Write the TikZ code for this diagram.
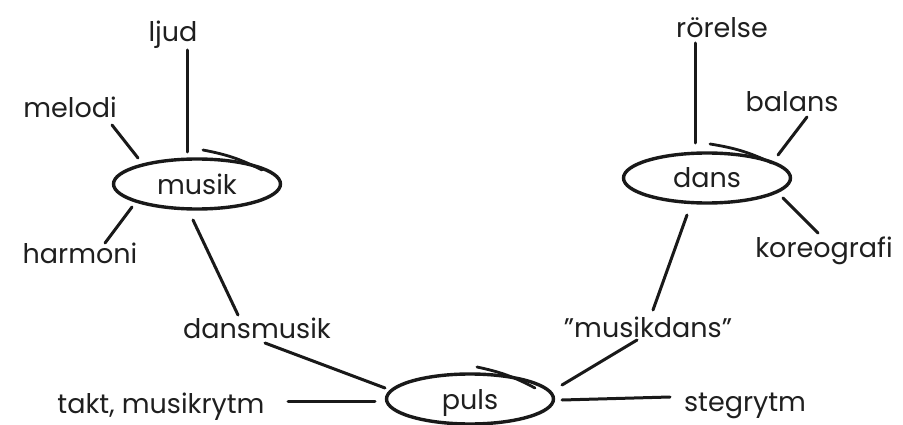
\documentclass[tikz,border=0pt]{standalone}
\usepackage{fontspec}
\setmainfont{Poppins}
\usetikzlibrary{shapes.geometric}
\begin{document}
\begin{tikzpicture}[x=1pt,y=-1pt,
  word/.style={anchor=base,inner sep=0pt,text=black!88,font=\fontsize{27}{32}\selectfont},
  ring/.style={ellipse,draw=black!90,line width=3.4pt,minimum width=167pt,minimum height=50pt,inner sep=0pt,
    text=black!88,font=\fontsize{27}{32}\selectfont,text height=20pt,text depth=0pt},
  link/.style={draw=black!90,line width=3pt,line cap=round},
  extra/.style={draw=black!90,line width=2.8pt,line cap=round}]
\useasboundingbox (0,0) rectangle (903,425);
\fill[white] (0,0) rectangle (903,425);
% ellipses
\node[ring] (musik) at (197,184) {musik};
\node[ring] (dans) at (707,178) {dans};
\node[ring] (puls) at (470,399) {puls};
% words
\node[word] (ljud) at (173,42) {ljud};
\node[word] (melodi) at (70,118) {melodi};
\node[word] (harmoni) at (80,263) {harmoni};
\node[word] (rorelse) at (722,38) {rörelse};
\node[word] (balans) at (792,112) {balans};
\node[word] (koreografi) at (824,258) {koreografi};
\node[word] (dansmusik) at (257,338) {dansmusik};
\node[word] (musikdans) at (648,337) {"musikdans"};
\node[word] (takt) at (161,413) {takt, musikrytm};
\node[word] (stegrytm) at (745,411) {stegrytm};
% connectors
\draw[link] ([shift={(14,8)}]ljud.base) -- ([shift={(-10,-32)}]musik.center);
\draw[link] ([shift={(42,7)}]melodi.base) -- ([shift={(-59,-26)}]musik.center);
\draw[link] ([shift={(25,-20)}]harmoni.base) -- ([shift={(-65,23)}]musik.center);
\draw[link] ([shift={(-4,36)}]musik.center) -- ([shift={(-19,-23)}]dansmusik.base);
\draw[link] ([shift={(8,5)}]dansmusik.base) -- ([shift={(-85,-11)}]puls.center);
\draw[link] ([shift={(127,-12)}]takt.base) -- ([shift={(-95,2)}]puls.center);
\draw[link] ([shift={(-27,5)}]rorelse.base) -- ([shift={(-12,-35)}]dans.center);
\draw[link] ([shift={(15,5)}]balans.base) -- ([shift={(71,-23)}]dans.center);
\draw[link] ([shift={(-6,-25)}]koreografi.base) -- ([shift={(76,20)}]dans.center);
\draw[link] ([shift={(-20,37)}]dans.center) -- ([shift={(5,-27)}]musikdans.base);
\draw[link] ([shift={(-11,3)}]musikdans.base) -- ([shift={(92,-14)}]puls.center);
\draw[link] ([shift={(92,1)}]puls.center) -- ([shift={(-75,-14)}]stegrytm.base);
% overlapping pen strokes
\draw[extra] ([shift={(6,-34)}]musik.center) to[bend left=8] ([shift={(65,-14)}]musik.center);
\draw[extra] ([shift={(3,-34)}]dans.center) to[bend left=8] ([shift={(65,-15)}]dans.center);
\draw[extra] ([shift={(7,-32)}]puls.center) to[bend left=8] ([shift={(65,-11)}]puls.center);
\end{tikzpicture}
\end{document}
